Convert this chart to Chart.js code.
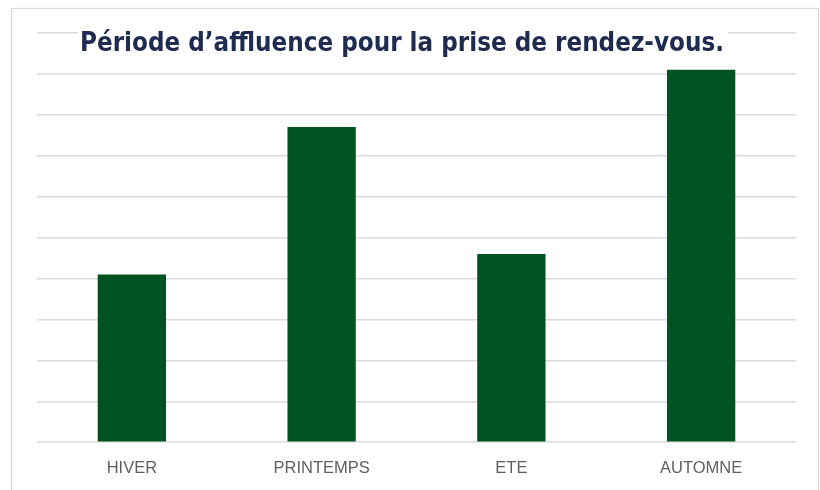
<!DOCTYPE html>
<html>
<head>
<meta charset="utf-8">
<script src="https://cdn.jsdelivr.net/npm/chart.js@4/dist/chart.umd.min.js"></script>
<style>
  html, body { margin: 0; padding: 0; background: #ffffff; overflow: hidden; }
  #frame { position: absolute; left: 11px; top: 8px; width: 806px; height: 520px; border: 1px solid #d9d9d9; box-shadow: 0 0 2px rgba(0,0,0,0.08); background: #fff; }
  #c { position: absolute; left: 0; top: 0; }
</style>
</head>
<body>
<div id="frame"></div>
<canvas id="c" width="820" height="490"></canvas>
<script>
const TITLE = "Période d’affluence pour la prise de rendez-vous.";
const CATEGORIES = ["HIVER", "PRINTEMPS", "ETE", "AUTOMNE"];
const VALUES = [4.1, 7.7, 4.6, 9.1];
const Y_MIN = 0, Y_MAX = 10, Y_STEP = 1;

const titlePlugin = {
  id: 'boxTitle',
  afterDraw(chart) {
    const ctx = chart.ctx;
    ctx.save();
    ctx.font = 'bold 26px "DejaVu Sans"';
    const w = ctx.measureText(TITLE).width;
    const target = 644;
    const s = target / w;
    ctx.fillStyle = '#ffffff';
    ctx.fillRect(78, 27, 650, 30);
    ctx.translate(80, 51);
    ctx.scale(s, 1);
    ctx.fillStyle = '#1f2b4f';
    ctx.textBaseline = 'alphabetic';
    ctx.textAlign = 'left';
    ctx.fillText(TITLE, 0, 0);
    ctx.restore();
  }
};

new Chart(document.getElementById('c'), {
  type: 'bar',
  data: {
    labels: CATEGORIES,
    datasets: [{
      data: VALUES,
      backgroundColor: '#005223',
      borderWidth: 0,
      barPercentage: 0.36,
      categoryPercentage: 1.0
    }]
  },
  options: {
    responsive: false,
    devicePixelRatio: 1,
    animation: false,
    layout: { padding: { left: 37, right: 24, top: 33, bottom: -4 } },
    plugins: { legend: { display: false }, title: { display: false }, tooltip: { enabled: false } },
    scales: {
      x: {
        grid: { display: false, drawTicks: false },
        border: { display: false },
        ticks: { padding: 16, color: '#5f5f5f', font: { family: '"Liberation Sans"', size: 16.5 } }
      },
      y: {
        min: Y_MIN, max: Y_MAX,
        grid: { color: '#dadada', lineWidth: 1.5, drawTicks: false },
        border: { display: false },
        ticks: { display: false, stepSize: Y_STEP }
      }
    }
  },
  plugins: [titlePlugin]
});
</script>
</body>
</html>
